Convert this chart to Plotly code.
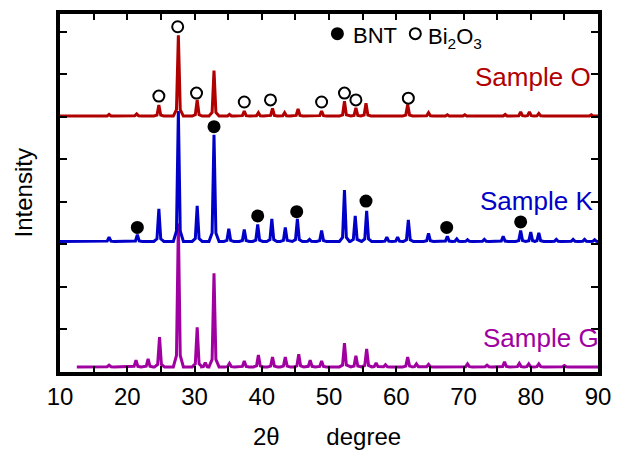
import plotly.graph_objects as go

# ---------------- data ----------------
# Sample O (Bi2O3-rich) : baseline and peaks (2theta, height above baseline)
o_start, o_end, o_base = 10.0, 90.0, 6.02
o_pos = [17.3, 21.4, 24.7, 27.6, 30.4, 32.9, 35.2, 37.4, 39.5, 41.6, 43.4, 45.4,
         48.9, 52.3, 54.0, 55.5, 61.7, 64.8, 67.6, 70.2, 76.2, 78.5, 79.8, 81.2, 89.0]
o_h = [0.04, 0.05, 0.26, 1.90, 0.38, 1.07, 0.04, 0.12, 0.08, 0.18, 0.08, 0.17,
       0.12, 0.35, 0.19, 0.30, 0.27, 0.08, 0.03, 0.03, 0.04, 0.10, 0.10, 0.06, 0.03]

# Sample K
k_start, k_end, k_base = 10.0, 90.0, 3.07
k_pos = [17.3, 21.5, 24.7, 27.6, 30.4, 32.9, 35.1, 37.4, 39.4, 41.5, 43.5, 45.3,
         47.1, 48.9, 52.3, 53.9, 55.6, 58.6, 60.2, 61.8, 64.8, 67.6, 69.0, 70.6,
         73.1, 75.9, 78.5, 80.0, 81.2, 83.8, 86.3, 88.0, 89.5]
k_h = [0.10, 0.16, 0.77, 3.07, 0.84, 2.51, 0.30, 0.28, 0.40, 0.53, 0.33, 0.53,
       0.05, 0.26, 1.21, 0.60, 0.72, 0.10, 0.10, 0.51, 0.19, 0.12, 0.06, 0.04,
       0.05, 0.12, 0.26, 0.22, 0.20, 0.05, 0.05, 0.05, 0.04]

# Sample G
g_start, g_end, g_base = 12.5, 90.0, 0.12
g_pos = [17.3, 21.3, 23.1, 24.8, 27.6, 30.4, 31.6, 32.9, 35.2, 37.4, 39.5, 41.6,
         43.5, 45.5, 47.2, 48.9, 52.3, 54.0, 55.6, 57.0, 58.4, 61.7, 63.0, 64.8,
         70.6, 73.5, 76.1, 78.3, 79.7, 81.2, 85.0]
g_h = [0.04, 0.16, 0.19, 0.70, 3.37, 0.93, 0.10, 2.20, 0.08, 0.14, 0.28, 0.23,
       0.23, 0.30, 0.16, 0.14, 0.56, 0.26, 0.42, 0.09, 0.05, 0.23, 0.07, 0.06,
       0.07, 0.04, 0.12, 0.08, 0.07, 0.07, 0.03]

# phase markers
bnt_x = [21.5, 32.9, 39.4, 45.2, 55.5, 67.5, 78.5]
bnt_y = [3.40, 5.77, 3.67, 3.77, 4.02, 3.40, 3.53]
bi_x = [24.7, 27.5, 30.3, 37.4, 41.3, 48.9, 52.3, 54.0, 61.8]
bi_y = [6.49, 8.12, 6.56, 6.35, 6.40, 6.35, 6.56, 6.40, 6.44]

x_ticks = [10, 20, 30, 40, 50, 60, 70, 80, 90]

RED = "#B00000"
BLUE = "#0000C8"
MAG = "#A000A0"


def pattern(x0, x1, base, pos, h):
    xs, ys = [x0], [base]
    for p, hh in zip(pos, h):
        xs += [p - 0.75, p - 0.28, p, p + 0.28, p + 0.75]
        ys += [base, base + 0.08 * hh, base + hh, base + 0.08 * hh, base]
    xs.append(x1)
    ys.append(base)
    return xs, ys


fig = go.Figure()
for (x0, x1, b, pos, h, col) in [
    (g_start, g_end, g_base, g_pos, g_h, MAG),
    (k_start, k_end, k_base, k_pos, k_h, BLUE),
    (o_start, o_end, o_base, o_pos, o_h, RED),
]:
    xs, ys = pattern(x0, x1, b, pos, h)
    fig.add_trace(go.Scatter(x=xs, y=ys, mode="lines", showlegend=False,
                             line=dict(color=col, width=3), hoverinfo="skip"))

fig.add_trace(go.Scatter(x=bnt_x, y=bnt_y, mode="markers", name="BNT", showlegend=False,
                         marker=dict(symbol="circle", size=13, color="black")))
fig.add_trace(go.Scatter(x=bi_x, y=bi_y, mode="markers", name="Bi2O3", showlegend=False,
                         marker=dict(symbol="circle-open", size=11, color="black",
                                     line=dict(width=2, color="black"))))

FONT = "Liberation Sans, Arial, sans-serif"

# sample labels
for txt, xx, yy, col, xs_ in [("Sample O", 89.2, 6.93, RED, 0),
                              ("Sample K", 89.6, 4.02, BLUE, 0),
                              ("Sample G", 89.0, 0.79, MAG, 10)]:
    fig.add_annotation(x=xx, y=yy, xref="x", yref="y", text=txt, showarrow=False,
                       xanchor="right", yanchor="middle", xshift=xs_,
                       font=dict(family=FONT, size=26, color=col))

# key (phase legend) drawn as pixel-sized circles + text
fig.add_shape(type="circle", xref="paper", yref="paper", xsizemode="pixel", ysizemode="pixel",
              xanchor=0.5156, yanchor=0.945, x0=-6.5, x1=6.5, y0=-6.5, y1=6.5,
              fillcolor="black", line=dict(width=0))
fig.add_shape(type="circle", xref="paper", yref="paper", xsizemode="pixel", ysizemode="pixel",
              xanchor=0.6604, yanchor=0.945, x0=-5.5, x1=5.5, y0=-5.5, y1=5.5,
              fillcolor="rgba(0,0,0,0)", line=dict(width=2, color="black"))
fig.add_annotation(x=0.5400, y=0.939, xref="paper", yref="paper", text="BNT",
                   showarrow=False, xanchor="left", yanchor="middle",
                   font=dict(family=FONT, size=22, color="black"))
fig.add_annotation(x=0.6810, y=0.934, xref="paper", yref="paper",
                   text="Bi<sub>2</sub>O<sub>3</sub>",
                   showarrow=False, xanchor="left", yanchor="middle",
                   font=dict(family=FONT, size=22, color="black"))

# axis titles
fig.add_annotation(x=0.497, y=-0.1796, xref="paper", yref="paper",
                   text="2\u03b8       degree", showarrow=False,
                   xanchor="center", yanchor="middle",
                   font=dict(family=FONT, size=24, color="black"))
fig.add_annotation(x=-0.0680, y=0.5, xref="paper", yref="paper", text="Intensity",
                   textangle=-90, showarrow=False, xanchor="center", yanchor="middle",
                   font=dict(family=FONT, size=24, color="black"))

fig.update_layout(
    width=621, height=450,
    margin=dict(l=60, r=16, t=10, b=78),
    paper_bgcolor="white", plot_bgcolor="white",
    font=dict(family=FONT, size=24, color="black"),
    showlegend=False,
)
fig.update_xaxes(
    range=[10, 90], tickvals=x_ticks, ticks="inside", ticklen=6, tickwidth=1.5,
    tickcolor="black", showline=True, linewidth=3.5, linecolor="black", mirror="ticks",
    showgrid=False, zeroline=False,
    tickfont=dict(family=FONT, size=24, color="black"),
    minor=dict(ticks="inside", ticklen=6, tickwidth=1.5, tickcolor="black", dtick=5),
)
fig.update_yaxes(
    range=[0, 8.42], dtick=1, tick0=0, ticks="inside", ticklen=7, tickwidth=1.5,
    tickcolor="black", showticklabels=False, showline=True, linewidth=3.5,
    linecolor="black", mirror="ticks", showgrid=False, zeroline=False,
)

fig.write_html("out.html")
